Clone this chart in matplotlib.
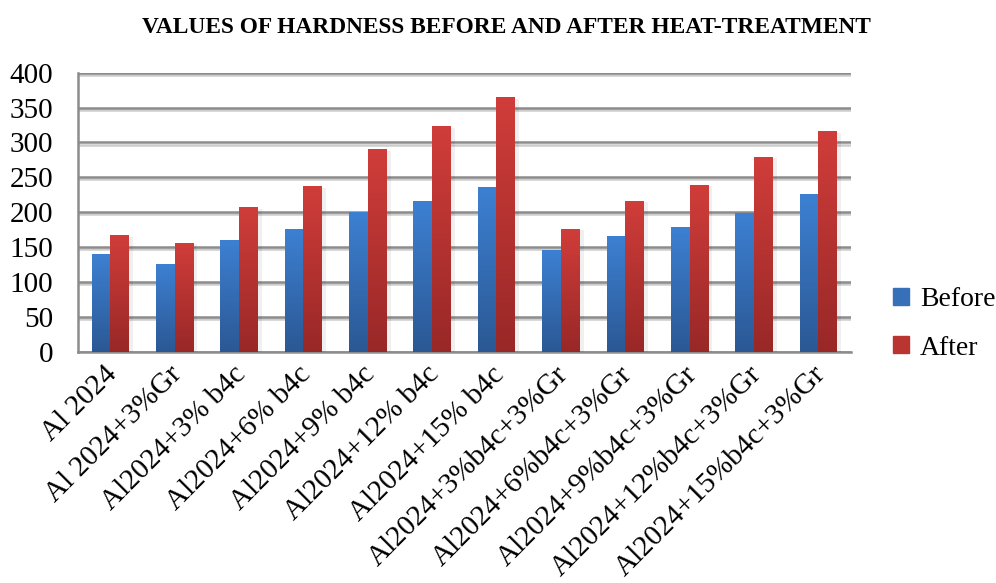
import numpy as np
import matplotlib
matplotlib.use("Agg")
import matplotlib.pyplot as plt
import matplotlib.patheffects as pe
import matplotlib.transforms as mtransforms
from matplotlib.colors import LinearSegmentedColormap

plt.rcParams['font.family'] = ['Liberation Serif', 'DejaVu Serif']

categories = ["Al 2024", "Al 2024+3%Gr", "Al2024+3% b4c", "Al2024+6% b4c",
              "Al2024+9% b4c", "Al2024+12% b4c", "Al2024+15% b4c",
              "Al2024+3%b4c+3%Gr", "Al2024+6%b4c+3%Gr", "Al2024+9%b4c+3%Gr",
              "Al2024+12%b4c+3%Gr", "Al2024+15%b4c+3%Gr"]
before = [140, 126, 160, 176, 200, 216, 236, 146, 166, 179, 199, 226]
after = [167, 156, 207, 237, 290, 323, 365, 176, 216, 239, 279, 316]

# gradient colours (bottom -> top)
blue_cm = LinearSegmentedColormap.from_list("b", ["#2b5894", "#3d80d2"])
red_cm = LinearSegmentedColormap.from_list("r", ["#982827", "#d03d3a"])

fig = plt.figure(figsize=(9.96, 5.83), dpi=100)
ax = fig.add_axes([0.0783, 0.3967, 0.7757, 0.4786])

x = np.arange(len(categories))
w = 0.29
bars_b = ax.bar(x - w / 2, before, w, color="#3572c0", label="Before", zorder=3)
bars_a = ax.bar(x + w / 2, after, w, color="#bf3432", label="After", zorder=3)

grad = np.linspace(0, 1, 256).reshape(-1, 1)
for bars, cm in ((bars_b, blue_cm), (bars_a, red_cm)):
    for p in bars:
        x0, y0 = p.get_x(), p.get_y()
        im = ax.imshow(grad, cmap=cm, origin="lower", aspect="auto",
                       extent=[x0, x0 + p.get_width(), y0, y0 + p.get_height()], zorder=4)
        im.set_clip_path(p)
# soft shadow to the right of "After" bars
for p in bars_a:
    p.set_path_effects([pe.SimplePatchShadow(offset=(3, -1), alpha=0.06, shadow_rgbFace="k"), pe.Normal()])

ax.set_xlim(-0.5, len(categories) - 0.5)
ax.set_ylim(0, 400)
ax.set_yticks(range(0, 401, 50))
ax.yaxis.grid(True, color="#8c8c8c", linewidth=1.8, zorder=1,
              path_effects=[pe.SimpleLineShadow(offset=(0, -1.5), alpha=0.2), pe.Normal()])
ax.set_axisbelow(True)

for s in ("top", "right"):
    ax.spines[s].set_visible(False)
for s in ("left", "bottom"):
    ax.spines[s].set_color("#8c8c8c")
    ax.spines[s].set_linewidth(1.8)

ax.tick_params(axis="y", length=0, labelsize=21, colors="black", pad=18)
ax.tick_params(axis="x", length=0, labelsize=21, colors="black", pad=4)
ax.set_xticks(x)
ax.set_xticklabels(categories, rotation=45, ha="right", rotation_mode="anchor")
shift = mtransforms.ScaledTranslation(-6 / 100, -4 / 100, fig.dpi_scale_trans)
for lbl in ax.get_xticklabels():
    lbl.set_transform(lbl.get_transform() + shift)

fig.suptitle("VALUES OF HARDNESS BEFORE AND AFTER HEAT-TREATMENT",
             x=0.508, y=0.97, fontsize=16.8, fontweight="bold")

leg = ax.legend(loc="center left", bbox_to_anchor=(1.041, 0.1), frameon=False,
                fontsize=20, handlelength=0.55, handleheight=0.55, handletextpad=0.4,
                labelspacing=0.85, borderaxespad=0)
for h, cm in zip(leg.legend_handles, (blue_cm, red_cm)):
    h.set_color(cm(0.6))
    h.set_path_effects([])

fig.savefig("out.png", dpi=100)
